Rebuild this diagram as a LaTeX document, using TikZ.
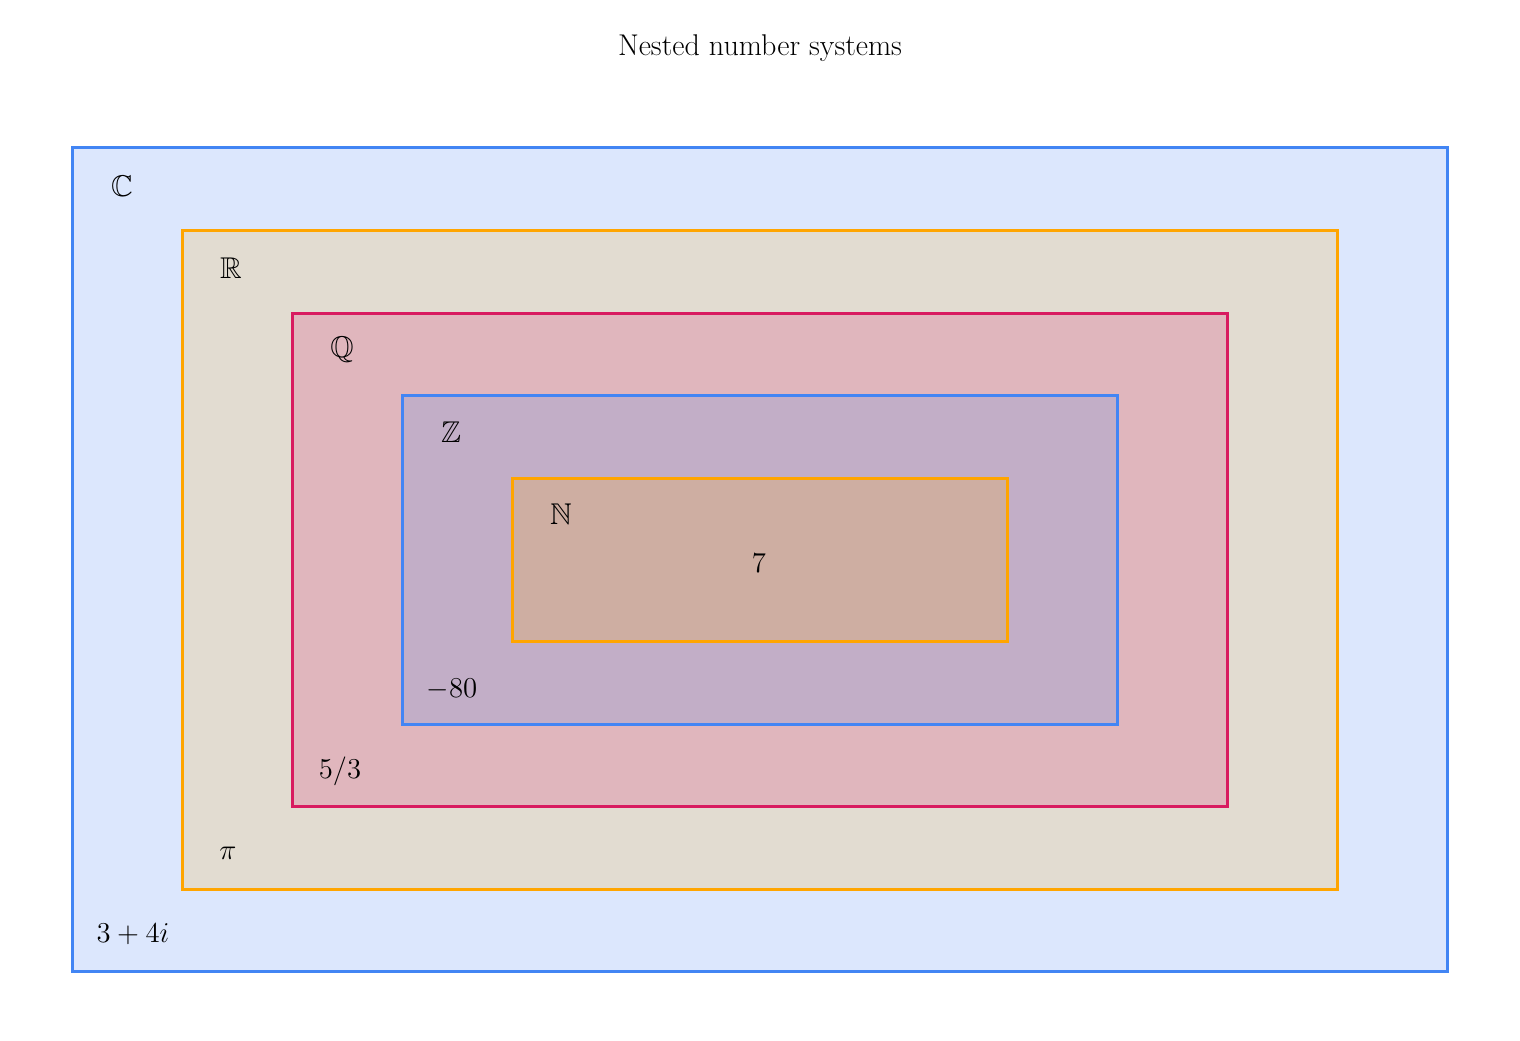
\documentclass[tikz,border=0pt]{standalone}
\usepackage{amssymb}
\begin{document}
\begin{tikzpicture}[x=0.5pt,y=-0.5pt,
  box/.style={draw, line width=1.5pt, inner sep=0pt},
  lab/.style={font=\fontsize{15}{18}\selectfont, inner sep=0pt},
  ]
\definecolor{cb}{HTML}{4285F4}\definecolor{co}{HTML}{FFA500}\definecolor{cr}{HTML}{D81B60}
\useasboundingbox (0,0) rectangle (1520,1040);
\node[lab] (title) at (760,48) {Nested number systems};
\node[box, draw=cb, fill={rgb,255:red,220;green,231;blue,253}, minimum width=687.5pt, minimum height=412pt] (C) at (759.5,559) {};
\node[box, draw=co, fill={rgb,255:red,226;green,220;blue,209}, minimum width=577.5pt, minimum height=329.5pt] (R) at (759.5,559.5) {};
\node[box, draw=cr, fill={rgb,255:red,224;green,182;blue,189}, minimum width=467.5pt, minimum height=246.5pt] (Q) at (759.5,559.5) {};
\node[box, draw=cb, fill={rgb,255:red,194;green,174;blue,199}, minimum width=357.5pt, minimum height=164.5pt] (Z) at (759.5,559.5) {};
\node[box, draw=co, fill={rgb,255:red,206;green,174;blue,162}, minimum width=247.5pt, minimum height=81.5pt] (N) at (759.5,559.5) {};
\node[lab] (lC) at (122,186) {$\mathbb{C}$};
\node[lab] (lR) at (231,268) {$\mathbb{R}$};
\node[lab] (lQ) at (342,350) {$\mathbb{Q}$};
\node[lab] (lZ) at (451,432) {$\mathbb{Z}$};
\node[lab] (lN) at (561,514) {$\mathbb{N}$};
\node[lab] (e7) at (759,563) {$7$};
\node[lab] (e80) at (452,689) {$-80$};
\node[lab] (e53) at (340,771) {$5/3$};
\node[lab] (epi) at (228,853) {$\pi$};
\node[lab] (ec) at (133,934) {$3+4i$};
\end{tikzpicture}
\end{document}
